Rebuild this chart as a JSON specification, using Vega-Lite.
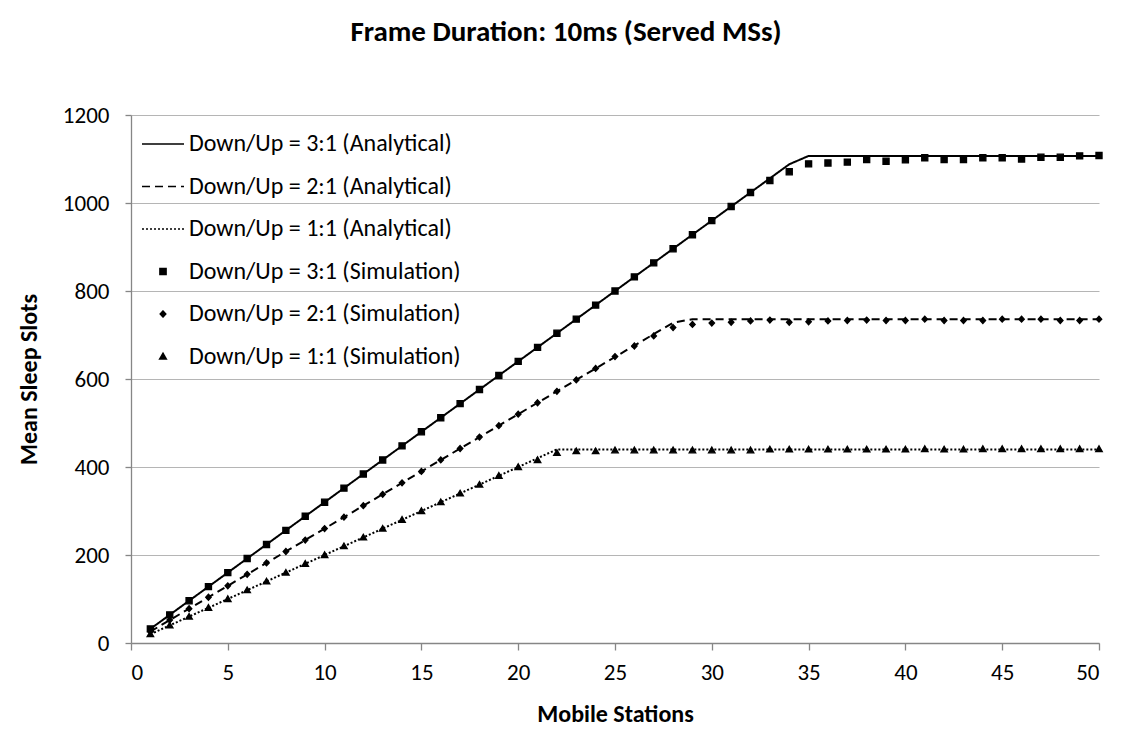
{
  "$schema": "https://vega.github.io/schema/vega-lite/v6.json",
  "width": 968,
  "height": 528,
  "autosize": "none",
  "padding": {"left": 131, "top": 115, "right": 26, "bottom": 97},
  "background": "white",
  "title": {
    "text": "Frame Duration: 10ms (Served MSs)",
    "fontSize": 29,
    "fontWeight": "bold",
    "color": "black",
    "anchor": "middle",
    "frame": "group",
    "dx": -49,
    "offset": 57
  },
  "data": {
    "values": [
      {"n": 1, "A3": 32, "A2": 26, "A1": 20, "S3": 32, "S2": 26, "S1": 20},
      {"n": 2, "A3": 64, "A2": 52, "A1": 40, "S3": 64, "S2": 52, "S1": 40},
      {"n": 3, "A3": 96, "A2": 78, "A1": 60, "S3": 96, "S2": 78, "S1": 60},
      {"n": 4, "A3": 128, "A2": 104, "A1": 80, "S3": 128, "S2": 104, "S1": 80},
      {"n": 5, "A3": 160, "A2": 130, "A1": 100, "S3": 160, "S2": 130, "S1": 100},
      {"n": 6, "A3": 192, "A2": 156, "A1": 120, "S3": 192, "S2": 156, "S1": 120},
      {"n": 7, "A3": 224, "A2": 182, "A1": 140, "S3": 224, "S2": 182, "S1": 140},
      {"n": 8, "A3": 256, "A2": 208, "A1": 160, "S3": 256, "S2": 208, "S1": 160},
      {"n": 9, "A3": 288, "A2": 234, "A1": 180, "S3": 288, "S2": 234, "S1": 180},
      {"n": 10, "A3": 320, "A2": 260, "A1": 200, "S3": 320, "S2": 260, "S1": 200},
      {"n": 11, "A3": 352, "A2": 286, "A1": 220, "S3": 352, "S2": 286, "S1": 220},
      {"n": 12, "A3": 384, "A2": 312, "A1": 240, "S3": 384, "S2": 312, "S1": 240},
      {"n": 13, "A3": 416, "A2": 338, "A1": 260, "S3": 416, "S2": 338, "S1": 260},
      {"n": 14, "A3": 448, "A2": 364, "A1": 280, "S3": 448, "S2": 364, "S1": 280},
      {"n": 15, "A3": 480, "A2": 390, "A1": 300, "S3": 480, "S2": 390, "S1": 300},
      {"n": 16, "A3": 512, "A2": 416, "A1": 320, "S3": 512, "S2": 416, "S1": 320},
      {"n": 17, "A3": 544, "A2": 442, "A1": 340, "S3": 544, "S2": 442, "S1": 340},
      {"n": 18, "A3": 576, "A2": 468, "A1": 360, "S3": 576, "S2": 468, "S1": 360},
      {"n": 19, "A3": 608, "A2": 494, "A1": 380, "S3": 608, "S2": 494, "S1": 380},
      {"n": 20, "A3": 640, "A2": 520, "A1": 400, "S3": 640, "S2": 520, "S1": 400},
      {"n": 21, "A3": 672, "A2": 546, "A1": 420, "S3": 672, "S2": 546, "S1": 416},
      {"n": 22, "A3": 704, "A2": 572, "A1": 440, "S3": 704, "S2": 572, "S1": 432},
      {"n": 23, "A3": 736, "A2": 598, "A1": 440, "S3": 736, "S2": 598, "S1": 436},
      {"n": 24, "A3": 768, "A2": 624, "A1": 440, "S3": 768, "S2": 624, "S1": 436},
      {"n": 25, "A3": 800, "A2": 650, "A1": 440, "S3": 800, "S2": 651, "S1": 438},
      {"n": 26, "A3": 832, "A2": 676, "A1": 440, "S3": 832, "S2": 675, "S1": 438},
      {"n": 27, "A3": 864, "A2": 702, "A1": 440, "S3": 864, "S2": 698, "S1": 438},
      {"n": 28, "A3": 896, "A2": 728, "A1": 440, "S3": 896, "S2": 717, "S1": 438},
      {"n": 29, "A3": 928, "A2": 736, "A1": 440, "S3": 928, "S2": 724, "S1": 438},
      {"n": 30, "A3": 960, "A2": 736, "A1": 440, "S3": 960, "S2": 727, "S1": 438},
      {"n": 31, "A3": 992, "A2": 736, "A1": 440, "S3": 992, "S2": 729, "S1": 438},
      {"n": 32, "A3": 1024, "A2": 736, "A1": 440, "S3": 1024, "S2": 732, "S1": 438},
      {"n": 33, "A3": 1056, "A2": 736, "A1": 440, "S3": 1051, "S2": 734, "S1": 440},
      {"n": 34, "A3": 1088, "A2": 736, "A1": 440, "S3": 1071, "S2": 729, "S1": 440},
      {"n": 35, "A3": 1107, "A2": 736, "A1": 440, "S3": 1089, "S2": 730, "S1": 440},
      {"n": 36, "A3": 1107, "A2": 736, "A1": 440, "S3": 1091, "S2": 732, "S1": 440},
      {"n": 37, "A3": 1107, "A2": 736, "A1": 440, "S3": 1093, "S2": 733, "S1": 440},
      {"n": 38, "A3": 1107, "A2": 736, "A1": 440, "S3": 1099, "S2": 734, "S1": 440},
      {"n": 39, "A3": 1107, "A2": 736, "A1": 440, "S3": 1095, "S2": 733, "S1": 440},
      {"n": 40, "A3": 1107, "A2": 736, "A1": 440, "S3": 1098, "S2": 733, "S1": 440},
      {"n": 41, "A3": 1107, "A2": 736, "A1": 440, "S3": 1103, "S2": 736, "S1": 441},
      {"n": 42, "A3": 1107, "A2": 736, "A1": 440, "S3": 1099, "S2": 733, "S1": 440},
      {"n": 43, "A3": 1107, "A2": 736, "A1": 440, "S3": 1099, "S2": 733, "S1": 440},
      {"n": 44, "A3": 1107, "A2": 736, "A1": 440, "S3": 1103, "S2": 733, "S1": 441},
      {"n": 45, "A3": 1107, "A2": 736, "A1": 440, "S3": 1103, "S2": 736, "S1": 441},
      {"n": 46, "A3": 1107, "A2": 736, "A1": 440, "S3": 1100, "S2": 736, "S1": 441},
      {"n": 47, "A3": 1107, "A2": 736, "A1": 440, "S3": 1104, "S2": 736, "S1": 441},
      {"n": 48, "A3": 1107, "A2": 736, "A1": 440, "S3": 1104, "S2": 733, "S1": 441},
      {"n": 49, "A3": 1107, "A2": 736, "A1": 440, "S3": 1107, "S2": 733, "S1": 441},
      {"n": 50, "A3": 1107, "A2": 736, "A1": 440, "S3": 1108, "S2": 736, "S1": 441}
    ]
  },
  "transform": [
    {"fold": ["A3", "A2", "A1", "S3", "S2", "S1"], "as": ["series", "value"]}
  ],
  "encoding": {
    "x": {
      "field": "n",
      "type": "quantitative",
      "scale": {"domain": [0, 50], "nice": false, "zero": false},
      "axis": {
        "title": "Mobile Stations",
        "values": [0, 5, 10, 15, 20, 25, 30, 35, 40, 45, 50],
        "format": "d",
        "grid": false,
        "tickSize": 7,
        "labelPadding": 11,
        "titlePadding": 18
      }
    },
    "y": {
      "field": "value",
      "type": "quantitative",
      "scale": {"domain": [0, 1200], "nice": false},
      "axis": {
        "title": "Mean Sleep Slots",
        "values": [0, 200, 400, 600, 800, 1000, 1200],
        "format": "d",
        "grid": true,
        "tickSize": 6,
        "labelPadding": 16,
        "titlePadding": 21
      }
    }
  },
  "layer": [
    {
      "transform": [{"filter": "indexof(datum.series, 'S') == 0"}],
      "mark": {"type": "point", "filled": true, "color": "black", "stroke": "black", "strokeWidth": 1.3, "opacity": 1, "size": 1764},
      "encoding": {
        "shape": {
          "field": "series",
          "type": "nominal",
          "scale": {
            "domain": ["A3", "A2", "A1", "S3", "S2", "S1"],
            "range": [
              "M-1,0L1,0",
              "M-1,0L1,0",
              "M-1,0L1,0",
              "M-0.145,-0.145H0.145V0.145H-0.145Z",
              "M0,-0.14L0.13,0L0,0.14L-0.13,0Z",
              "M0,-0.15L0.155,0.12L-0.155,0.12Z"
            ]
          },
          "legend": {
            "title": null,
            "labelExpr": "{'A3': 'Down/Up = 3:1 (Analytical)', 'A2': 'Down/Up = 2:1 (Analytical)', 'A1': 'Down/Up = 1:1 (Analytical)', 'S3': 'Down/Up = 3:1 (Simulation)', 'S2': 'Down/Up = 2:1 (Simulation)', 'S1': 'Down/Up = 1:1 (Simulation)'}[datum.label]"
          }
        }
      }
    },
    {
      "transform": [{"filter": "indexof(datum.series, 'A') == 0"}],
      "mark": {"type": "line", "color": "black", "strokeWidth": 2},
      "encoding": {
        "strokeDash": {
          "field": "series",
          "type": "nominal",
          "scale": {
            "domain": ["A3", "A2", "A1", "S3", "S2", "S1"],
            "range": [[1, 0], [8, 5], [2, 2], [1, 0], [1, 0], [1, 0]]
          },
          "legend": {
            "title": null,
            "labelExpr": "{'A3': 'Down/Up = 3:1 (Analytical)', 'A2': 'Down/Up = 2:1 (Analytical)', 'A1': 'Down/Up = 1:1 (Analytical)', 'S3': 'Down/Up = 3:1 (Simulation)', 'S2': 'Down/Up = 2:1 (Simulation)', 'S1': 'Down/Up = 1:1 (Simulation)'}[datum.label]"
          }
        }
      }
    }
  ],
  "config": {
    "font": "Carlito, Lato, sans-serif",
    "view": {"stroke": null},
    "axis": {
      "labelColor": "black",
      "titleColor": "black",
      "labelFontSize": 23,
      "titleFontSize": 24,
      "titleFontWeight": "bold",
      "domainColor": "#868686",
      "tickColor": "#868686",
      "gridColor": "#b5b5b5",
      "domainWidth": 1.3,
      "tickWidth": 1.3
    },
    "legend": {
      "orient": "none",
      "legendX": 10,
      "legendY": 7,
      "labelFontSize": 24,
      "labelColor": "black",
      "labelOffset": 4,
      "labelLimit": 500,
      "symbolSize": 1764,
      "symbolStrokeWidth": 1.6,
      "rowPadding": 8.5
    }
  }
}
